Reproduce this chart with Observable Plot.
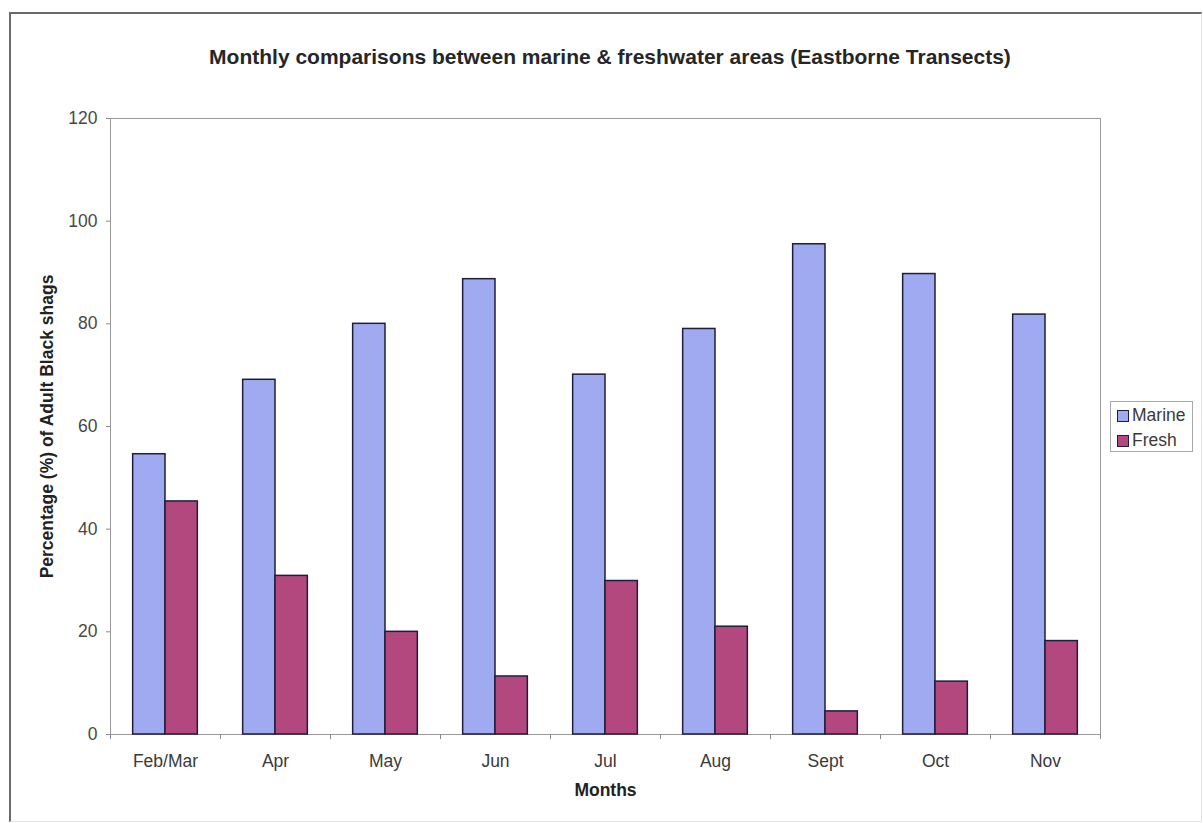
<!DOCTYPE html>
<html>
<head>
<meta charset="utf-8">
<script src="https://cdn.jsdelivr.net/npm/d3@7"></script>
<script src="https://cdn.jsdelivr.net/npm/@observablehq/plot@0.6"></script>
<style>
  html, body { margin: 0; padding: 0; background: #fff; }
  #wrap { position: relative; width: 1203px; height: 823px; overflow: hidden; font-family: "Liberation Sans", Arial, sans-serif; }
  #outer { position: absolute; left: 9px; top: 12px; width: 1190px; height: 807px;
           border-left: 2px solid #6a6a6a; border-top: 2px solid #6a6a6a;
           border-right: 1px solid #e4e4e4; border-bottom: 1px solid #e4e4e4; pointer-events: none; }
  #title { position: absolute; left: 0; width: 1220px; top: 45px; text-align: center;
           font-weight: bold; font-size: 21px; line-height: 24px; color: #262626; }
  #chart { position: absolute; left: 0; top: 0; }
  #legend { position: absolute; left: 1110px; top: 401px; width: 83px; height: 51px;
            border: 1px solid #a8a8a8; box-sizing: border-box; font-size: 17.5px; color: #3a3a3a; }
  .row { position: absolute; left: 6px; height: 20px; line-height: 20px; white-space: nowrap; }
  .sw { display: inline-block; width: 10px; height: 10px; border: 1.5px solid #1e1e3c; vertical-align: -1px; margin-right: 3px; }
</style>
</head>
<body>
<div id="wrap">
  <div id="chart"></div>
  <div id="title"></div>
  <div id="legend"></div>
  <div id="outer"></div>
</div>
<script>
const titleText = "Monthly comparisons between marine & freshwater areas (Eastborne Transects)";
const yLabel = "Percentage (%) of Adult Black shags";
const xLabel = "Months";
const months = ["Feb/Mar", "Apr", "May", "Jun", "Jul", "Aug", "Sept", "Oct", "Nov"];
const marine = [54.6, 69.1, 80.0, 88.7, 70.1, 79.0, 95.5, 89.7, 81.8];
const fresh  = [45.4, 30.9, 20.0, 11.3, 29.9, 21.0, 4.5, 10.3, 18.2];
const seriesNames = ["Marine", "Fresh"];
const seriesColors = ["#a0aaf0", "#b2487d"];
const yTicks = [0, 20, 40, 60, 80, 100, 120];

const marineData = months.map((m, i) => ({month: m, series: "Marine", value: marine[i]}));
const freshData = months.map((m, i) => ({month: m, series: "Fresh", value: fresh[i]}));

const W = 1203, H = 823;
const ml = 110, mr = 103, mt = 118, mb = 89;
const bw = (W - ml - mr) / months.length;
const barW = bw * 0.294;

const chart = Plot.plot({
  width: W, height: H,
  marginLeft: ml, marginRight: mr, marginTop: mt, marginBottom: mb,
  style: {fontFamily: "'Liberation Sans', Arial, sans-serif", fontSize: "17.5px", background: "transparent", color: "#333"},
  x: {type: "band", domain: months, padding: 0, label: null},
  y: {domain: [0, 120], label: null},
  marks: [
    Plot.frame({stroke: "#9a9a9a", strokeWidth: 1}),
    Plot.barY(marineData, {x: "month", y: "value", fill: seriesColors[0], stroke: "#1e1e3c", strokeWidth: 1.5,
      insetLeft: bw / 2 - barW, insetRight: bw / 2}),
    Plot.barY(freshData, {x: "month", y: "value", fill: seriesColors[1], stroke: "#1e1e3c", strokeWidth: 1.5,
      insetLeft: bw / 2, insetRight: bw / 2 - barW}),
    Plot.ruleX(months, {x: d => d, dx: -bw / 2, y1: 0, y2: -1, stroke: "#8a8a8a"}),
    Plot.ruleX([months[months.length - 1]], {x: d => d, dx: bw / 2, y1: 0, y2: -1, stroke: "#8a8a8a"}),
    Plot.axisY({ticks: yTicks, tickSize: 4, tickPadding: 9, label: null, stroke: "#8a8a8a", fill: "#484848"}),
    Plot.axisX({tickSize: 0, tickPadding: 20, label: null, fill: "#3a3a3a"}),
    Plot.text([yLabel], {text: d => d, frameAnchor: "left", textAnchor: "middle", lineAnchor: "middle", rotate: -90, dx: -63, fontWeight: "bold", fontSize: 17.5, fill: "#222"}),
    Plot.text([xLabel], {text: d => d, frameAnchor: "bottom", lineAnchor: "middle", dy: 56, fontWeight: "bold", fontSize: 17.5, fill: "#222"})
  ]
});
document.getElementById("chart").appendChild(chart);
document.getElementById("title").textContent = titleText;

const legend = document.getElementById("legend");
seriesNames.forEach((name, i) => {
  const row = document.createElement("div");
  row.className = "row";
  row.style.top = (3 + i * 25) + "px";
  const sw = document.createElement("span");
  sw.className = "sw";
  sw.style.background = seriesColors[i];
  row.appendChild(sw);
  row.appendChild(document.createTextNode(name));
  legend.appendChild(row);
});
</script>
</body>
</html>
